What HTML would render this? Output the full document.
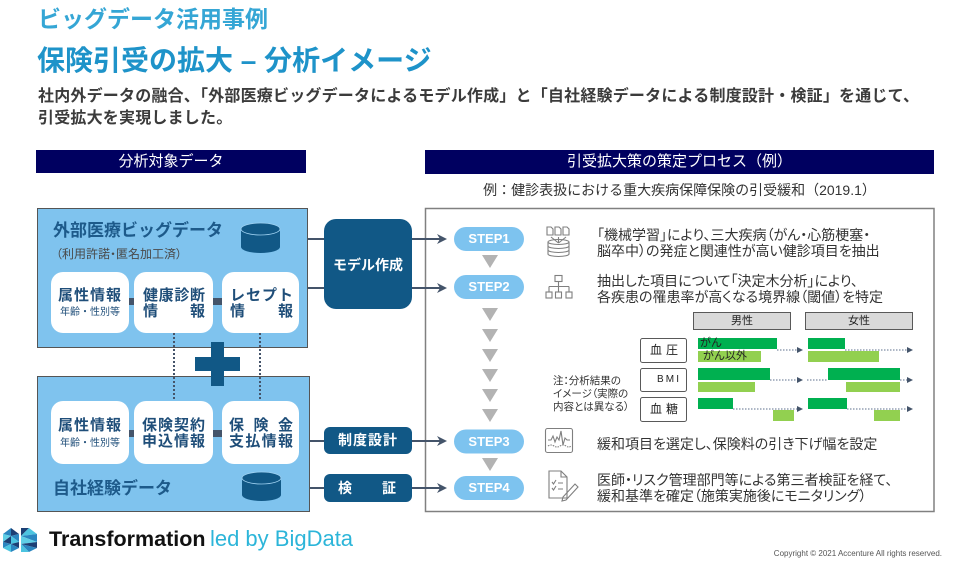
<!DOCTYPE html>
<html><head><meta charset="utf-8">
<style>
*{margin:0;padding:0;box-sizing:border-box}
body{width:958px;height:562px;background:#fff;position:relative;overflow:hidden;font-family:"Liberation Sans","Noto Sans CJK JP",sans-serif}
.t{position:absolute;white-space:nowrap}
.jr{position:absolute;display:flex;justify-content:space-between;white-space:nowrap;font-weight:bold;color:#1f4e79;font-size:15px;line-height:20px}
.pill{position:absolute;left:454px;width:70px;height:24px;line-height:24px;text-align:center;color:#fff;font-weight:bold;font-size:13px;font-family:"Liberation Sans",sans-serif}
.st{position:absolute;left:597px;font-size:14px;line-height:16px;color:#333;white-space:nowrap;font-feature-settings:"palt"}
</style></head><body>
<svg width="958" height="562" style="position:absolute;left:0;top:0">
<rect x="36" y="150" width="270" height="23" fill="#000060"/>
<rect x="425" y="150" width="509" height="24" fill="#000060"/>
<rect x="37.5" y="208.5" width="270" height="139" fill="#7fc3ee" stroke="#555" stroke-width="1"/>
<rect x="37.5" y="376.5" width="272" height="135" fill="#7fc3ee" stroke="#555" stroke-width="1"/>
<rect x="51" y="272" width="78" height="61" rx="12" fill="#fff"/>
<rect x="134" y="272" width="79" height="61" rx="12" fill="#fff"/>
<rect x="222" y="272" width="77" height="61" rx="12" fill="#fff"/>
<rect x="51" y="401" width="78" height="63" rx="12" fill="#fff"/>
<rect x="134" y="401" width="79" height="63" rx="12" fill="#fff"/>
<rect x="222" y="401" width="77" height="63" rx="12" fill="#fff"/>
<rect x="129" y="298" width="5" height="7" fill="#44546a"/>
<rect x="213" y="298" width="9" height="7" fill="#44546a"/>
<rect x="129" y="430" width="5" height="7" fill="#44546a"/>
<rect x="213" y="430" width="9" height="7" fill="#44546a"/>
<line x1="174" y1="333" x2="174" y2="401" stroke="#44546a" stroke-width="2" stroke-dasharray="2 2"/>
<line x1="260" y1="333" x2="260" y2="401" stroke="#44546a" stroke-width="2" stroke-dasharray="2 2"/>
<rect x="211" y="342" width="13" height="44" fill="#115886"/>
<rect x="195" y="357" width="45" height="14" fill="#115886"/>
<path d="M241,229 L241,247 A19.5,6 0 0 0 280,247 L280,229 Z" fill="#115886"/>
<ellipse cx="260.5" cy="229" rx="19.5" ry="6" fill="#115886" stroke="#9fd2f2" stroke-width="0.8"/>
<path d="M242,478 L242,495 A19.5,6 0 0 0 281,495 L281,478 Z" fill="#115886"/>
<ellipse cx="261.5" cy="478" rx="19.5" ry="6" fill="#115886" stroke="#9fd2f2" stroke-width="0.8"/>
<rect x="324" y="219" width="88" height="90" rx="12" fill="#115886"/>
<rect x="324" y="427" width="88" height="27" rx="6" fill="#115886"/>
<rect x="324" y="474" width="88" height="28" rx="6" fill="#115886"/>
<rect x="425.5" y="208.5" width="508.5" height="303" fill="none" stroke="#808080" stroke-width="1.5"/>
<g stroke="#44546a" stroke-width="2">
<line x1="308" y1="239" x2="324" y2="239"/><line x1="412" y1="239" x2="442" y2="239"/>
<line x1="308" y1="288" x2="324" y2="288"/><line x1="412" y1="288" x2="442" y2="288"/>
<line x1="310" y1="441" x2="324" y2="441"/><line x1="412" y1="441" x2="442" y2="441"/>
<line x1="310" y1="488" x2="324" y2="488"/><line x1="412" y1="488" x2="442" y2="488"/>
</g>
<g fill="#44546a">
<polygon points="447,239 437,234 440,239 437,244"/>
<polygon points="447,288 437,283 440,288 437,293"/>
<polygon points="447,441 437,436 440,441 437,446"/>
<polygon points="447,488 437,483 440,488 437,493"/>
</g>
<g fill="#7dc3ef">
<rect x="454" y="227" width="70" height="24" rx="12"/>
<rect x="454" y="275" width="70" height="24" rx="12"/>
<rect x="454" y="429.5" width="70" height="24" rx="12"/>
<rect x="454" y="476" width="70" height="24" rx="12"/>
</g>
<g fill="#b3b3b3">
<polygon points="482,255 498,255 490,268"/>
<polygon points="482,308 498,308 490,321"/>
<polygon points="482,329 498,329 490,342"/>
<polygon points="482,349 498,349 490,362"/>
<polygon points="482,369 498,369 490,382"/>
<polygon points="482,389 498,389 490,402"/>
<polygon points="482,409 498,409 490,422"/>
<polygon points="482,458 498,458 490,471"/>
</g>
<g fill="none" stroke="#7f7f7f" stroke-width="1.1">
<path d="M547,235V227H551L553,229V235Z"/>
<path d="M555,235V227H559L561,229V235Z"/>
<path d="M563,235V227H567L569,229V235Z"/>
<path d="M558.5,243L551,237M558.5,243V237M558.5,243L566,237"/>
<ellipse cx="558.5" cy="242" rx="10.5" ry="2.5"/>
<path d="M548,242V254A10.5,2.5 0 0 0 569,254V242"/>
<path d="M548,246A10.5,2.5 0 0 0 569,246M548,250A10.5,2.5 0 0 0 569,250"/>
<rect x="555" y="275.5" width="7" height="6"/>
<path d="M558.5,281.5V286.5M549,286.5H569M549,286.5V292M558.5,286.5V292M569,286.5V292"/>
<rect x="546" y="292" width="6" height="6"/>
<rect x="555.5" y="292" width="6" height="6"/>
<rect x="566" y="292" width="6" height="6"/>
<rect x="545.5" y="428.5" width="27" height="24" rx="2"/>
<polyline points="548,440 551,440 553,436 555,442 557,437 559,440 561,431 563,445 565,438 567,440 570,440"/>
<path d="M548,446 Q551,444 554,446 T560,446 T566,446 T571,446" stroke-dasharray="1.5 1"/>
<path d="M549,471H561L567,477V498H549Z"/>
<path d="M561,471V477H567"/>
<path d="M552,482L553.5,484L556,480M558,483H563M552,488L553.5,490L556,486M558,489H563"/>
<path d="M563,497L575,484L578,487L566,500L562,501Z"/>
</g>
<rect x="693.5" y="312.5" width="97" height="17" fill="#d9d9d9" stroke="#595959"/>
<rect x="805.5" y="312.5" width="107" height="17" fill="#d9d9d9" stroke="#595959"/>
<rect x="640.5" y="338.5" width="46" height="24" rx="2" fill="#fff" stroke="#595959"/>
<rect x="640.5" y="368.5" width="46" height="23" rx="2" fill="#fff" stroke="#595959"/>
<rect x="640.5" y="397.5" width="46" height="24" rx="2" fill="#fff" stroke="#595959"/>
<g fill="#00b050">
<rect x="698" y="338" width="79" height="11"/>
<rect x="808" y="338" width="37" height="11"/>
<rect x="698" y="368" width="72" height="12"/>
<rect x="828" y="368" width="72" height="12"/>
<rect x="698" y="398" width="35" height="11"/>
<rect x="808" y="398" width="39" height="11"/>
</g>
<g fill="#92d050">
<rect x="698" y="351" width="63" height="11"/>
<rect x="808" y="351" width="71" height="11"/>
<rect x="698" y="382" width="57" height="10"/>
<rect x="846" y="382" width="54" height="10"/>
<rect x="773" y="410" width="21" height="11"/>
<rect x="874" y="410" width="26" height="11"/>
</g>
<g stroke="#7d8ca3" stroke-width="1.2" stroke-dasharray="1.5 1.5">
<line x1="777" y1="350" x2="798" y2="350"/>
<line x1="845" y1="350" x2="908" y2="350"/>
<line x1="770" y1="380" x2="798" y2="380"/>
<line x1="807" y1="380" x2="828" y2="380"/>
<line x1="900" y1="380" x2="908" y2="380"/>
<line x1="733" y1="409" x2="798" y2="409"/>
<line x1="847" y1="409" x2="908" y2="409"/>
</g>
<g fill="#44546a">
<polygon points="803,350 797,347 797,353"/>
<polygon points="913,350 907,347 907,353"/>
<polygon points="803,380 797,377 797,383"/>
<polygon points="913,380 907,377 907,383"/>
<polygon points="803,409 797,406 797,412"/>
<polygon points="913,409 907,406 907,412"/>
</g>
<g>
<polygon points="3,534 11,528 11,536" fill="#2a86c0"/>
<polygon points="11,528 19,534 11,536" fill="#1c3f74"/>
<polygon points="3,534 11,536 3,542" fill="#5fcfe6"/>
<polygon points="11,536 19,534 19,542" fill="#2a86c0"/>
<polygon points="3,542 11,536 11,544" fill="#1c3f74"/>
<polygon points="11,536 19,542 11,544" fill="#4cc4e0"/>
<polygon points="3,542 11,544 3,548" fill="#2a86c0"/>
<polygon points="11,544 19,542 19,548" fill="#1c3f74"/>
<polygon points="3,548 11,544 11,552" fill="#4cc4e0"/>
<polygon points="11,544 19,548 11,552" fill="#2a86c0"/>
<polygon points="21,528 29,528 21,536" fill="#1c3f74"/>
<polygon points="29,528 37,534 21,536" fill="#4cc4e0"/>
<polygon points="21,536 37,534 37,542" fill="#2a86c0"/>
<polygon points="21,536 37,542 21,544" fill="#5fcfe6"/>
<polygon points="21,544 37,542 37,548" fill="#1c3f74"/>
<polygon points="21,544 37,548 29,552" fill="#2a86c0"/>
<polygon points="21,544 29,552 21,552" fill="#4cc4e0"/>
</g>
</svg>

<div class="t" style="left:38px;top:4px;font-size:23px;line-height:30px;font-weight:bold;color:#35a6d5">ビッグデータ活用事例</div>
<div class="t" style="left:37px;top:44px;font-size:28px;line-height:34px;font-weight:bold;color:#1e93c9">保険引受の拡大 – 分析イメージ</div>
<div class="t" style="left:38px;top:86px;font-size:16px;line-height:22px;font-weight:bold;color:#3b3b3b;letter-spacing:0.2px">社内外データの融合、「外部医療ビッグデータによるモデル作成」と「自社経験データによる制度設計・検証」を通じて、<br>引受拡大を実現しました。</div>

<div class="t" style="left:36px;top:150px;width:270px;text-align:center;line-height:23px;font-size:15px;color:#fff">分析対象データ</div>
<div class="t" style="left:425px;top:150px;width:509px;text-align:center;line-height:24px;font-size:15px;color:#fff">引受拡大策の策定プロセス（例）</div>
<div class="t" style="left:425px;top:181px;width:509px;text-align:center;line-height:18px;font-size:14px;color:#333">例：健診表扱における重大疾病保障保険の引受緩和（2019.1）</div>

<div class="t" style="left:53px;top:220px;font-size:17px;line-height:22px;font-weight:bold;color:#1d5a8a">外部医療ビッグデータ</div>
<div class="t" style="left:56px;top:246px;font-size:12px;line-height:16px;color:#4a4a4a;font-feature-settings:'palt'">（利用許諾・匿名加工済）</div>
<div class="t" style="left:53px;top:478px;font-size:17px;line-height:22px;font-weight:bold;color:#1d5a8a">自社経験データ</div>

<div class="jr" style="left:58px;top:286px;width:63px"><span>属</span><span>性</span><span>情</span><span>報</span></div>
<div class="t" style="left:51px;top:306px;width:78px;text-align:center;font-size:10px;line-height:14px;color:#1f4e79">年齢・性別等</div>
<div class="jr" style="left:143px;top:286px;width:62px"><span>健</span><span>康</span><span>診</span><span>断</span></div>
<div class="jr" style="left:143px;top:302px;width:62px"><span>情</span><span>報</span></div>
<div class="jr" style="left:230px;top:286px;width:63px"><span>レ</span><span>セ</span><span>プ</span><span>ト</span></div>
<div class="jr" style="left:230px;top:302px;width:63px"><span>情</span><span>報</span></div>

<div class="jr" style="left:58px;top:416px;width:63px"><span>属</span><span>性</span><span>情</span><span>報</span></div>
<div class="t" style="left:51px;top:437px;width:78px;text-align:center;font-size:10px;line-height:14px;color:#1f4e79">年齢・性別等</div>
<div class="jr" style="left:142px;top:416px;width:63px"><span>保</span><span>険</span><span>契</span><span>約</span></div>
<div class="jr" style="left:142px;top:432px;width:63px"><span>申</span><span>込</span><span>情</span><span>報</span></div>
<div class="jr" style="left:229px;top:416px;width:64px"><span>保</span><span>険</span><span>金</span></div>
<div class="jr" style="left:229px;top:432px;width:64px"><span>支</span><span>払</span><span>情</span><span>報</span></div>

<div class="t" style="left:324px;top:255px;width:88px;text-align:center;font-size:14px;line-height:20px;font-weight:bold;color:#fff">モデル作成</div>
<div class="t" style="left:324px;top:427px;width:88px;text-align:center;font-size:14px;line-height:27px;font-weight:bold;color:#fff;letter-spacing:1px">制度設計</div>
<div class="jr" style="left:338px;top:478px;width:58px;color:#fff;font-size:14px"><span>検</span><span>証</span></div>

<div class="pill" style="top:227px">STEP1</div>
<div class="pill" style="top:275px">STEP2</div>
<div class="pill" style="top:429.5px">STEP3</div>
<div class="pill" style="top:476px">STEP4</div>

<div class="st" style="top:227px">「機械学習」により、三大疾病（がん・心筋梗塞・<br>脳卒中）の発症と関連性が高い健診項目を抽出</div>
<div class="st" style="top:273px">抽出した項目について「決定木分析」により、<br>各疾患の罹患率が高くなる境界線（閾値）を特定</div>
<div class="st" style="top:436px">緩和項目を選定し、保険料の引き下げ幅を設定</div>
<div class="st" style="top:472px">医師・リスク管理部門等による第三者検証を経て、<br>緩和基準を確定（施策実施後にモニタリング）</div>

<div class="t" style="left:693px;top:313px;width:98px;text-align:center;font-size:11px;line-height:16px;color:#222">男性</div>
<div class="t" style="left:805px;top:313px;width:108px;text-align:center;font-size:11px;line-height:16px;color:#222">女性</div>
<div class="jr" style="left:650px;top:342px;width:28px;font-size:12px;line-height:16px;font-weight:normal;color:#222"><span>血</span><span>圧</span></div>
<div class="jr" style="left:657px;top:372px;width:22px;font-size:10px;line-height:16px;font-weight:normal;color:#222"><span>B</span><span>M</span><span>I</span></div>
<div class="jr" style="left:650px;top:401px;width:28px;font-size:12px;line-height:16px;font-weight:normal;color:#222"><span>血</span><span>糖</span></div>
<div class="t" style="left:700px;top:337px;font-size:11px;line-height:12px;color:#222">がん</div>
<div class="t" style="left:703px;top:350px;font-size:11px;line-height:12px;color:#222">がん以外</div>
<div class="t" style="left:553px;top:375px;font-size:10.5px;line-height:13px;color:#333;font-feature-settings:'palt'">注：分析結果の<br>イメージ（実際の<br>内容とは異なる）</div>

<div class="t" style="left:49px;top:527px;line-height:24px;font-family:'Liberation Sans',sans-serif"><b style="color:#111;font-size:21.5px">Transformation</b> <span style="color:#2cb5d9;font-size:22px">led by BigData</span></div>
<div class="t" style="right:16px;top:549px;font-size:8px;line-height:10px;color:#555;font-family:'Liberation Sans',sans-serif">Copyright © 2021 Accenture All rights reserved.</div>
</body></html>
